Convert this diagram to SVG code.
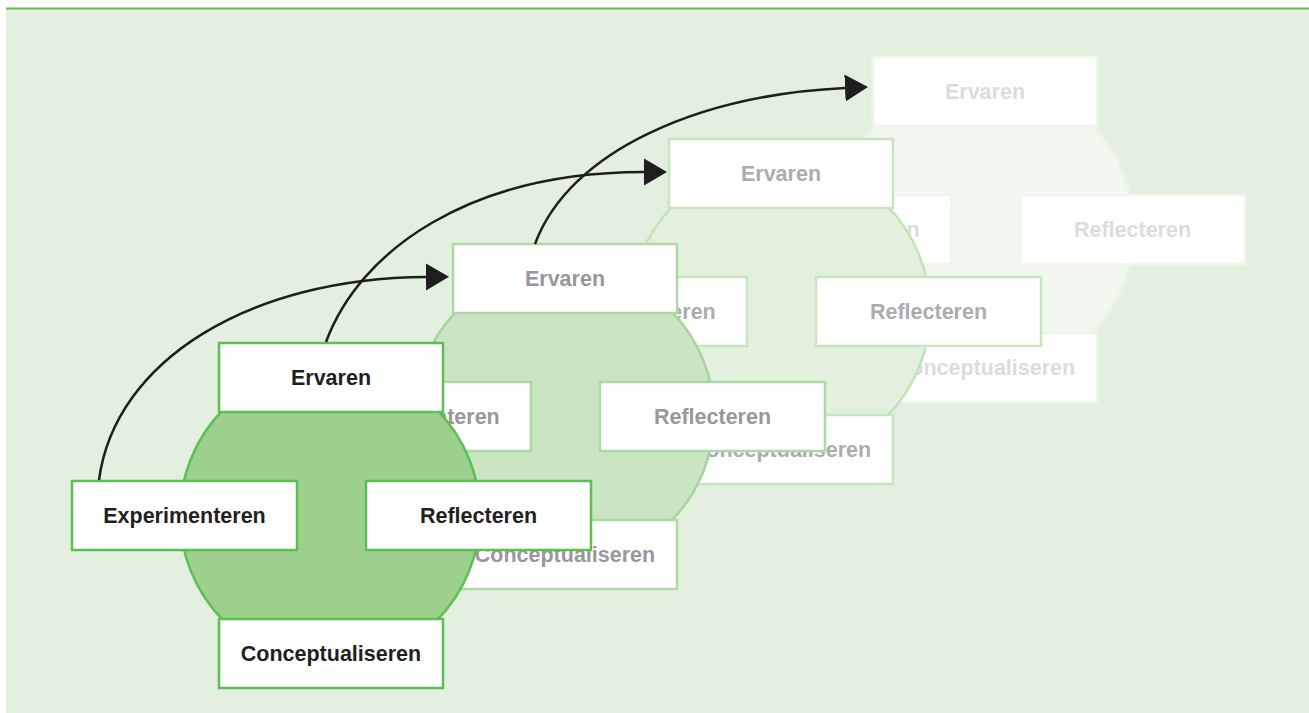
<svg xmlns="http://www.w3.org/2000/svg" width="1309" height="713" viewBox="0 0 1309 713">
<style>
  text { font-family: "Liberation Sans", Arial, sans-serif; font-weight: bold; font-size: 21.5px; text-anchor: middle; }
  .box { fill: #ffffff; stroke-width: 2.5; }
  .b1 { stroke: #5cbf55; } .t1 { fill: #231f20; }
  .b2 { stroke: #acd9a4; } .t2 { fill: #97979c; }
  .b3 { stroke: #c6e6bf; } .t3 { fill: #acacb0; }
  .b4 { stroke: #eef6eb; } .t4 { fill: #dcdce0; }
  .ring { stroke-width: 2.5; }
  .conn { fill: none; stroke: #1f1d1e; stroke-width: 2.5; marker-end: url(#arrow); }
</style>
<defs>
  <marker id="arrow" markerUnits="userSpaceOnUse" markerWidth="24" markerHeight="28" refX="0" refY="14" orient="auto" viewBox="0 0 24 28">
    <path d="M0,0.5 L23,14 L0,27.5 Z" fill="#1f1d1e"/>
  </marker>
</defs>
<rect x="6" y="8" width="1303" height="705" fill="#e4f0df"/>
<line x1="6" y1="8.5" x2="1309" y2="8.5" stroke="#5abf50" stroke-width="2"/>

<g id="cycle4">
  <circle class="ring" cx="984" cy="229" r="150" fill="#f2f8f0" stroke="#eaf4e6"/>
  <g id="c4-ervaren"><rect class="box b4" x="873" y="57" width="224" height="69"/><text class="t4" x="985" y="98.5">Ervaren</text></g>
  <g id="c4-experimenteren"><rect class="box b4" x="726" y="195" width="225" height="69"/><text class="t4" x="838.5" y="236.5">Experimenteren</text></g>
  <g id="c4-reflecteren"><rect class="box b4" x="1020" y="195" width="225" height="69"/><text class="t4" x="1132.5" y="236.5">Reflecteren</text></g>
  <g id="c4-conceptualiseren"><rect class="box b4" x="873" y="333" width="224" height="69"/><text class="t4" x="985" y="374.5">Conceptualiseren</text></g>
</g>

<g id="cycle3">
  <circle class="ring" cx="780" cy="311" r="150" fill="#e3f0dd" stroke="#c0e3b8"/>
  <g id="c3-ervaren"><rect class="box b3" x="669" y="139" width="224" height="69"/><text class="t3" x="781" y="180.5">Ervaren</text></g>
  <g id="c3-experimenteren"><rect class="box b3" x="522" y="277" width="225" height="69"/><text class="t3" x="634.5" y="318.5">Experimenteren</text></g>
  <g id="c3-reflecteren"><rect class="box b3" x="816" y="277" width="225" height="69"/><text class="t3" x="928.5" y="318.5">Reflecteren</text></g>
  <g id="c3-conceptualiseren"><rect class="box b3" x="669" y="415" width="224" height="69"/><text class="t3" x="781" y="456.5">Conceptualiseren</text></g>
</g>

<g id="cycle2">
  <circle class="ring" cx="564" cy="416" r="150" fill="#cbe5c4" stroke="#a3d69a"/>
  <g id="c2-ervaren"><rect class="box b2" x="453" y="244" width="224" height="69"/><text class="t2" x="565" y="285.5">Ervaren</text></g>
  <g id="c2-experimenteren"><rect class="box b2" x="306" y="382" width="225" height="69"/><text class="t2" x="418.5" y="423.5">Experimenteren</text></g>
  <g id="c2-reflecteren"><rect class="box b2" x="600" y="382" width="225" height="69"/><text class="t2" x="712.5" y="423.5">Reflecteren</text></g>
  <g id="c2-conceptualiseren"><rect class="box b2" x="453" y="520" width="224" height="69"/><text class="t2" x="565" y="561.5">Conceptualiseren</text></g>
</g>

<g id="cycle1">
  <circle class="ring" cx="330" cy="515" r="150" fill="#9dd08c" stroke="#5cbf55"/>
  <g id="c1-ervaren"><rect class="box b1" x="219" y="343" width="224" height="69"/><text class="t1" x="331" y="384.5">Ervaren</text></g>
  <g id="c1-experimenteren"><rect class="box b1" x="72" y="481" width="225" height="69"/><text class="t1" x="184.5" y="522.5">Experimenteren</text></g>
  <g id="c1-reflecteren"><rect class="box b1" x="366" y="481" width="225" height="69"/><text class="t1" x="478.5" y="522.5">Reflecteren</text></g>
  <g id="c1-conceptualiseren"><rect class="box b1" x="219" y="619" width="224" height="69"/><text class="t1" x="331" y="660.5">Conceptualiseren</text></g>
</g>

<g id="connectors">
  <path class="conn" d="M99,480 C115,360 250,278 426,277"/>
  <path class="conn" d="M326,342 C360,250 470,172 644,172"/>
  <path class="conn" d="M535,244 C570,150 700,95 845,88"/>
</g>
</svg>
